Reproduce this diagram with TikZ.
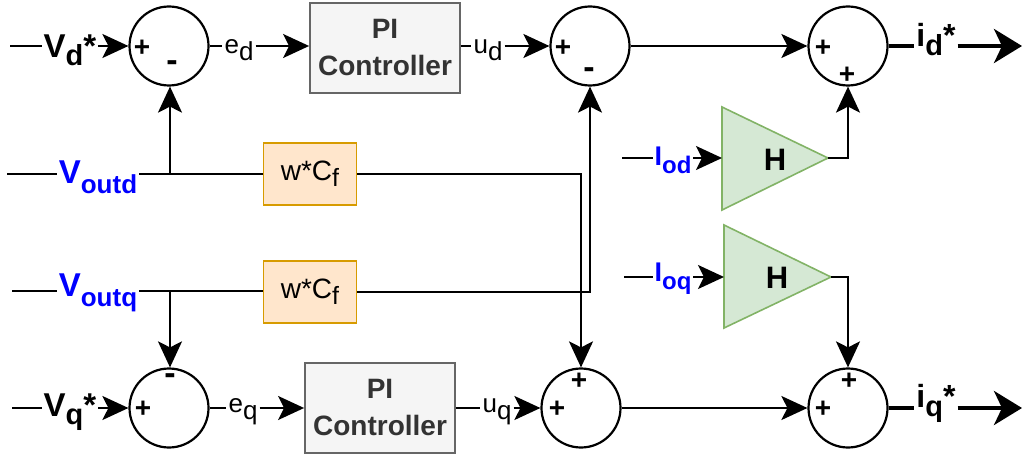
\documentclass[tikz,border=0pt]{standalone}
\usepackage{fontspec}
\setmainfont{Liberation Sans}
\usetikzlibrary{arrows.meta}
\definecolor{piline}{HTML}{666666}
\definecolor{pifill}{HTML}{F5F5F5}
\definecolor{pitext}{HTML}{333333}
\definecolor{wline}{HTML}{D79B00}
\definecolor{wfill}{HTML}{FFE6CC}
\definecolor{hline}{HTML}{82B366}
\definecolor{hfill}{HTML}{D5E8D4}
\definecolor{sigblue}{HTML}{0000FF}
\newcommand{\lo}[2][6pt]{\raisebox{-#1}{#2}}
\newcommand{\fs}[1]{\fontsize{#1}{#1}\selectfont}
\begin{document}
\begin{tikzpicture}[x=1pt,y=-1pt,
  sum/.style={circle,draw,line width=2.2pt,minimum size=79pt,inner sep=0pt},
  pibox/.style={draw=piline,fill=pifill,line width=1.8pt,minimum width=150pt,minimum height=90pt,
    font=\fontsize{28}{37}\selectfont\bfseries,text=pitext,align=center},
  wbox/.style={draw=wline,fill=wfill,line width=1.8pt,minimum width=93pt,minimum height=62pt,
    font=\fontsize{28}{30}\selectfont},
  tri/.style={draw=hline,fill=hfill,line width=1.6pt,line join=miter},
  hlab/.style={font=\fontsize{31}{34}\selectfont\bfseries},
  sgn/.style={font=\fontsize{28}{28}\selectfont\bfseries,inner sep=0pt},
  msgn/.style={font=\fontsize{34}{34}\selectfont\bfseries,inner sep=0pt},
  bigl/.style={font=\fontsize{33}{36}\selectfont\bfseries,inner sep=2pt},
  outl/.style={font=\fontsize{32}{36}\selectfont\bfseries,inner sep=2pt},
  bluel/.style={font=\fontsize{33}{36}\selectfont\bfseries,text=sigblue,inner sep=2pt},
  bluei/.style={font=\fontsize{27}{30}\selectfont\bfseries,text=sigblue,inner sep=1.5pt},
  smal/.style={font=\fontsize{26}{28}\selectfont,inner sep=2pt},
  wire/.style={line width=2pt},
  arr/.style={wire,-{Stealth[length=26pt,width=24pt,inset=6pt]}},
  fatwire/.style={line width=4pt},
  fatarr/.style={fatwire,-{Stealth[length=28pt,width=34pt,inset=8pt]}}]
\useasboundingbox (0,0) rectangle (1022,457);

% summing junctions
\node[sum] (c1) at (169,46) {};
\node[sum] (c2) at (590,46) {};
\node[sum] (c3) at (848,46) {};
\node[sum] (c6) at (169,408) {};
\node[sum] (c5) at (581,408) {};
\node[sum] (c4) at (848,408) {};

% signs
\node[sgn] at (142,48) {+};
\node[msgn] at (172,66) {-};
\node[sgn] at (563,48) {+};
\node[msgn] at (589,73) {-};
\node[sgn] at (823,48) {+};
\node[sgn] at (847,75) {+};
\node[sgn] at (143,409) {+};
\node[msgn] at (170,379) {-};
\node[sgn] at (557,409) {+};
\node[sgn] at (579,381) {+};
\node[sgn] at (823,409) {+};
\node[sgn] at (849,381) {+};

% PI controllers
\node[pibox] (pi1) at (385,48) {PI\\Controller};
\node[pibox] (pi2) at (380,408) {PI\\Controller};

% w*Cf blocks
\node[wbox] (w1) at (310,174) {w*C\lo[6pt]{\fs{25}f}};
\node[wbox] (w2) at (310,292) {w*C\lo[6pt]{\fs{25}f}};

% gain triangles
\draw[tri] (722,107) -- (828,158) -- (722,210) -- cycle;
\coordinate (h1in) at (722,158);
\coordinate (h1out) at (828,158);
\node[hlab] (h1) at (775,160) {H};
\draw[tri] (724,225) -- (831,277) -- (724,328) -- cycle;
\coordinate (h2in) at (724,277);
\coordinate (h2out) at (831,277);
\node[hlab] (h2) at (777,278) {H};

% labels
\node[bigl] (vd) at (70,50) {V\lo[8pt]{\fs{29}d}*};
\node[bigl] (vq) at (70,412) {V\lo[8pt]{\fs{29}q}*};
\node[smal] (ed) at (239,50) {e\lo[7pt]{d}};
\node[smal] (eq) at (243,412) {e\lo[7pt]{q}};
\node[smal] (ud) at (488,50) {u\lo[7pt]{d}};
\node[smal] (uq) at (497,412) {u\lo[7pt]{q}};
\node[outl] (id) at (936,40) {i\lo[9pt]{\fs{29}d}*};
\node[outl] (iq) at (936,403) {i\lo[9pt]{\fs{29}q}*};
\node[bluel] (vod) at (98,177) {V\lo[10pt]{\fs{26}outd}};
\node[bluel] (voq) at (98,293) {V\lo[10pt]{\fs{26}outq}};
\node[bluei] (iod) at (673,160) {I\lo[8pt]{\fs{24}od}};
\node[bluei] (ioq) at (673,279) {I\lo[8pt]{\fs{24}oq}};

% end coordinates
\coordinate (vds) at (10,46);
\coordinate (vqs) at (12,408);
\coordinate (vods) at (7,174);
\coordinate (voqs) at (12,291);
\coordinate (iods) at (622,158);
\coordinate (ioqs) at (624,277);
\coordinate (ide) at (1022,46);
\coordinate (iqe) at (1022,408);
\coordinate (jd) at (170,174);
\coordinate (jq) at (170,291);

% top row
\draw[wire] (vds) -- (vds -| vd.west);
\draw[arr] (vd.east |- c1.west) -- (c1.west);
\draw[wire] (c1.east) -- (ed.west |- c1.east);
\draw[arr] (ed.east |- c1.east) -- (pi1.west |- c1.east);
\draw[wire] (pi1.east |- c2.west) -- (ud.west |- c2.west);
\draw[arr] (ud.east |- c2.west) -- (c2.west);
\draw[arr] (c2.east) -- (c3.west);
\draw[fatwire] (c3.east) -- (id.west |- c3.east);
\draw[fatarr] (id.east |- ide) -- (ide);

% bottom row
\draw[wire] (vqs) -- (vqs -| vq.west);
\draw[arr] (vq.east |- c6.west) -- (c6.west);
\draw[wire] (c6.east) -- (eq.west |- c6.east);
\draw[arr] (eq.east |- c6.east) -- (pi2.west |- c6.east);
\draw[wire] (pi2.east |- c5.west) -- (uq.west |- c5.west);
\draw[arr] (uq.east |- c5.west) -- (c5.west);
\draw[arr] (c5.east) -- (c4.west);
\draw[fatwire] (c4.east) -- (iq.west |- c4.east);
\draw[fatarr] (iq.east |- iqe) -- (iqe);

% V_outd path
\draw[wire] (vods) -- (vods -| vod.west);
\draw[wire] (vod.east |- vods) -- (w1.west);
\draw[arr] (jd) -- (c1.south -| jd);
\draw[arr] (w1.east) -- (w1.east -| c5.north) -- (c5.north);

% V_outq path
\draw[wire] (voqs) -- (voqs -| voq.west);
\draw[wire] (voq.east |- voqs) -- (w2.west |- voqs);
\draw[arr] (jq) -- (c6.north -| jq);
\draw[arr] (w2.east) -- (w2.east -| c2.south) -- (c2.south);

% current feed-forward
\draw[wire] (iods) -- (iods -| iod.west);
\draw[arr] (iod.east |- h1in) -- (h1in);
\draw[arr] (h1out) -- (h1out -| c3.south) -- (c3.south);
\draw[wire] (ioqs) -- (ioqs -| ioq.west);
\draw[arr] (ioq.east |- h2in) -- (h2in);
\draw[arr] (h2out) -- (h2out -| c4.north) -- (c4.north);
\end{tikzpicture}
\end{document}
